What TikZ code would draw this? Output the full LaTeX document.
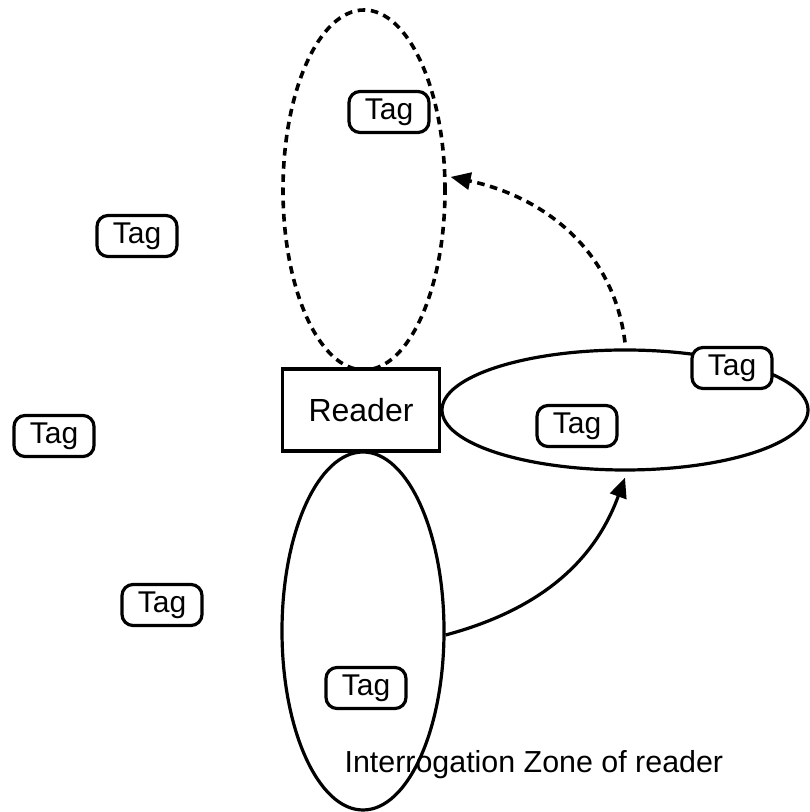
\documentclass[tikz,border=0pt]{standalone}
\usepackage{fontspec}
\setmainfont{Liberation Sans}
\usetikzlibrary{arrows.meta,shapes.geometric}

\begin{document}
\begin{tikzpicture}[x=0.5pt,y=0.5pt,line width=1.6pt,
  tag/.style={draw,fill=white,rounded corners=5.5pt,minimum width=40pt,minimum height=20.5pt,inner sep=0pt,font=\fontsize{15}{17}\selectfont},
  zone/.style={draw,ellipse,inner sep=0pt},
  dash zone/.style={zone,line width=1.8pt,dash pattern=on 3.8pt off 2.8pt}]

\useasboundingbox (0,0) rectangle (809,812);

% Zones of the reader
\node[dash zone,minimum width=81pt,minimum height=180pt] (topzone) at (364,622) {};
\node[zone,minimum width=183pt,minimum height=60pt] (rightzone) at (625,402) {};
\node[zone,minimum width=81pt,minimum height=179pt] (bottomzone) at (363,181) {};

% Reader
\node[draw,fill=white,minimum width=78.5pt,minimum height=41pt,inner sep=0pt,font=\fontsize{16}{18}\selectfont] (reader) at (361,402) {Reader};

% Moving the zone
\draw[-{Triangle[length=10pt,width=8.5pt]}] ([yshift=-2pt]bottomzone.east) to[out=15,in=-110] ([yshift=-3pt]rightzone.south);
\draw[line width=1.8pt,dash pattern=on 3.8pt off 2.8pt,-{Triangle[length=10pt,width=8.5pt]}] ([yshift=3pt]rightzone.north) to[out=97,in=-12] ([xshift=2pt]topzone.9);

% Tags
\node[tag] (tag1) at (389,700) {Tag};
\node[tag] (tag2) at (137,576) {Tag};
\node[tag] (tag3) at (54,376) {Tag};
\node[tag] (tag4) at (162,207) {Tag};
\node[tag] (tag5) at (366,124) {Tag};
\node[tag] (tag6) at (732,444) {Tag};
\node[tag] (tag7) at (577,386) {Tag};

\node[anchor=base west,inner sep=0pt,font=\fontsize{15.2}{18}\selectfont] (zonelabel) at (343,39) {Interrogation Zone of reader};

\end{tikzpicture}
\end{document}
